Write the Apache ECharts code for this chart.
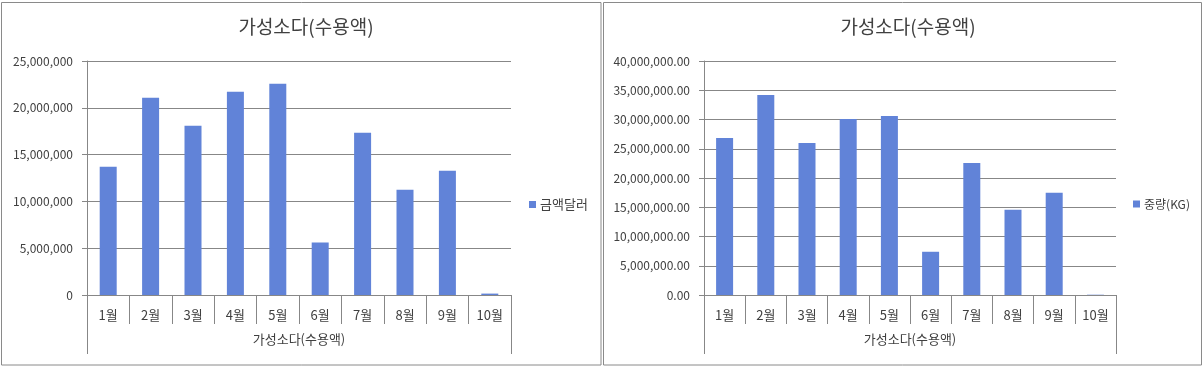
<!DOCTYPE html>
<html>
<head>
<meta charset="utf-8">
<script src="https://cdn.jsdelivr.net/npm/echarts@6/dist/echarts.min.js"></script>
<style>
  html, body { margin: 0; padding: 0; background: #fff; }
  #main { width: 1203px; height: 366px; }
</style>
</head>
<body>
<div id="main"></div>
<script>
// 데이터
var months = ['1월', '2월', '3월', '4월', '5월', '6월', '7월', '8월', '9월', '10월'];
var groupLabel = ['가성소다(수용액)'];
var chartTitle = '가성소다(수용액)';
var amountName = '금액달러';
var amountValues = [13700000, 21080000, 18090000, 21720000, 22570000, 5620000, 17340000, 11250000, 13280000, 150000];
var weightName = '중량(KG)';
var weightValues = [26840000, 34180000, 25990000, 30090000, 30600000, 7390000, 22580000, 14560000, 17460000, 50000];

var font = '"Noto Sans CJK KR", "Noto Sans", sans-serif';
var textColor = '#404040';
var lineColor = '#878787';
var barColor = '#6183d8';

var myChart = echarts.init(document.getElementById('main'), null, { renderer: 'canvas' });

function monthAxis(gridIndex) {
  return {
    type: 'category',
    gridIndex: gridIndex,
    data: months,
    position: 'bottom',
    axisLine: { show: true, lineStyle: { color: lineColor, width: 1 } },
    axisTick: { show: true, length: 29, lineStyle: { color: lineColor } },
    axisLabel: { color: textColor, fontSize: 13, fontFamily: font, margin: 14, interval: 0 },
    splitLine: { show: false }
  };
}
function groupAxis(gridIndex) {
  return {
    type: 'category',
    gridIndex: gridIndex,
    data: groupLabel,
    position: 'bottom',
    axisLine: { show: false },
    axisTick: { show: true, length: 59, lineStyle: { color: lineColor } },
    axisLabel: { color: textColor, fontSize: 13, fontFamily: font, margin: 38 },
    splitLine: { show: false }
  };
}
function valueAxis(gridIndex, max, decimals) {
  return {
    type: 'value',
    gridIndex: gridIndex,
    min: 0,
    max: max,
    interval: 5000000,
    axisLine: { show: true, lineStyle: { color: lineColor } },
    axisTick: { show: true, length: 5, lineStyle: { color: lineColor } },
    axisLabel: {
      color: textColor, fontSize: 12, fontFamily: font, margin: 14,
      formatter: function (v) {
        return v.toLocaleString('en-US', { minimumFractionDigits: decimals, maximumFractionDigits: decimals });
      }
    },
    splitLine: { show: true, lineStyle: { color: lineColor, width: 1 } }
  };
}

var option = {
  animation: false,
  title: [
    { text: chartTitle, left: 301, top: 12, textAlign: 'center',
      textStyle: { fontSize: 19, fontWeight: 'normal', color: textColor, fontFamily: font } },
    { text: chartTitle, left: 903, top: 12, textAlign: 'center',
      textStyle: { fontSize: 19, fontWeight: 'normal', color: textColor, fontFamily: font } }
  ],
  legend: [
    { data: [amountName], left: 524, top: 193, icon: 'rect', itemWidth: 7, itemHeight: 7, itemGap: 4,
      textStyle: { fontSize: 13, color: textColor, fontFamily: font, padding: [0, 0, 0, -1] } },
    { data: [weightName], left: 1128, top: 193, icon: 'rect', itemWidth: 7, itemHeight: 7, itemGap: 4,
      textStyle: { fontSize: 12, color: textColor, fontFamily: font, padding: [0, 0, 0, -1] } }
  ],
  grid: [
    { left: 87, top: 61, width: 424, height: 234, containLabel: false },
    { left: 704, top: 61, width: 412, height: 234, containLabel: false }
  ],
  xAxis: [monthAxis(0), groupAxis(0), monthAxis(1), groupAxis(1)],
  yAxis: [valueAxis(0, 25000000, 0), valueAxis(1, 40000000, 2)],
  series: [
    { type: 'bar', name: amountName, xAxisIndex: 0, yAxisIndex: 0, data: amountValues,
      barWidth: 17, itemStyle: { color: barColor } },
    { type: 'bar', name: weightName, xAxisIndex: 2, yAxisIndex: 1, data: weightValues,
      barWidth: 17, itemStyle: { color: barColor } }
  ],
  graphic: [
    { type: 'rect', shape: { x: 1.5, y: 2.5, width: 599.5, height: 362.5 },
      style: { fill: 'none', stroke: '#8a8a8a', lineWidth: 1 }, silent: true },
    { type: 'rect', shape: { x: 603.5, y: 2.5, width: 598, height: 362.5 },
      style: { fill: 'none', stroke: '#8a8a8a', lineWidth: 1 }, silent: true }
  ]
};

option && myChart.setOption(option);
</script>
</body>
</html>
